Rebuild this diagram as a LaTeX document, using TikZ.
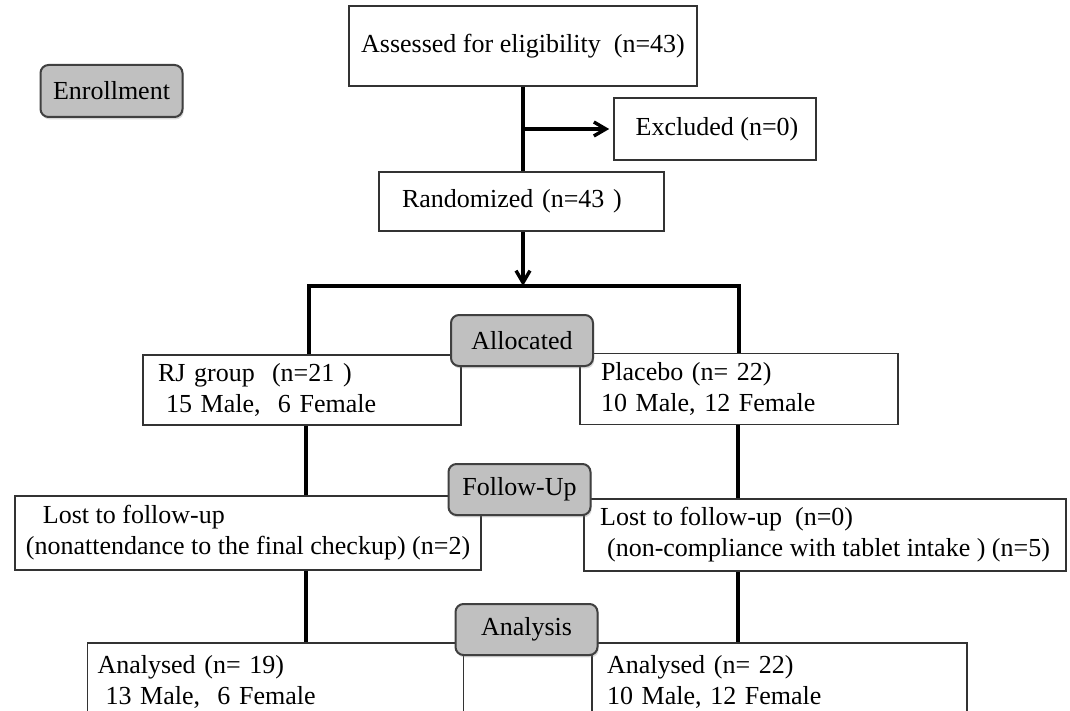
\documentclass[tikz,border=0pt]{standalone}
\usepackage{fontspec}
\setmainfont{Liberation Serif}
\usetikzlibrary{arrows.meta,shadows}
\usepackage{xcolor}
\definecolor{stagegray}{HTML}{C0C0C0}
\definecolor{stageedge}{HTML}{404040}
\definecolor{boxedge}{HTML}{333333}

\tikzset{
  panel/.style={draw=boxedge, fill=white, line width=0.8pt, align=left,
    inner ysep=0pt, font=\fontsize{13}{15.5}\selectfont},
  stage/.style={draw=stageedge, fill=stagegray, line width=1pt, rounded corners=4pt,
    minimum width=71pt, minimum height=25.5pt, inner sep=0pt,
    font=\fontsize{13}{15.5}\selectfont,
    drop shadow={shadow xshift=0.6pt, shadow yshift=-1.2pt, opacity=0.3}},
  link/.style={line width=1.7pt, line join=miter},
  flow/.style={link, -{Straight Barb[length=6pt,width=7pt]}}
}

\begin{document}
\begin{tikzpicture}[x=0.5pt, y=-0.5pt]

  % Page frame
  \fill[white] (0,0) rectangle (1070,711);
  \useasboundingbox (0,0) rectangle (1070,711);
  \clip (0,0) rectangle (1070,711);

  % Enrollment boxes
  \node[panel, align=center, minimum width=174pt, minimum height=40pt] (assess) at (523,46)
    {Assessed for eligibility\ \ (n=43)};
  \node[panel, align=center, minimum width=101pt, minimum height=31pt] (excl) at (715,129)
    {\hspace*{2pt}Excluded (n=0)};
  \node[panel, text width=119.5pt, inner xsep=11.5pt, minimum height=29.5pt] (rand) at (521.5,201.5)
    {Randomized (n=43 )};

  % Allocation boxes
  \node[panel, text width=144pt, inner xsep=7.5pt, minimum height=35pt] (rj) at (302,390)
    {RJ group\ \ (n=21 )\\\hspace*{4pt}15 Male,\ \ 6 Female};
  \node[panel, text width=138pt, inner xsep=10.5pt, minimum height=35.5pt] (placebo) at (739,389)
    {Placebo (n= 22)\\10 Male, 12 Female};

  % Follow-up boxes
  \node[panel, minimum width=233pt, inner xsep=2pt, minimum height=37pt] (lostrj) at (248,533)
    {\hspace*{8.5pt}Lost to follow-up\\(nonattendance to the final checkup) (n=2)};
  \node[panel, minimum width=241pt, inner xsep=2pt, minimum height=36pt] (lostpl) at (825,535)
    {Lost to follow-up\ \ (n=0)\\\hspace*{3.5pt}(non-compliance with tablet intake ) (n=5)};

  % Analysis boxes (cut at the lower edge)
  \node[panel, anchor=north, text width=178pt, inner xsep=5pt, inner ysep=6.5pt] (anarj) at (275.5,642)
    {Analysed (n= 19)\\\hspace*{4pt}13 Male,\ \ 6 Female\rule[-10pt]{0pt}{10pt}};
  \node[panel, anchor=north, text width=172.5pt, inner xsep=7.5pt, inner ysep=6.5pt] (anapl) at (779.5,642)
    {Analysed (n= 22)\\10 Male, 12 Female\rule[-10pt]{0pt}{10pt}};

  % Connectors
  \coordinate (fork) at (523,286);
  \coordinate (forkL) at (309,286);
  \coordinate (forkR) at (739,286);
  \coordinate (colL) at (306,0);
  \coordinate (colR) at (738,0);

  \draw[link] (assess.south) -- (assess.south |- rand.north);
  \draw[flow, shorten >=2pt] (assess.south |- excl.west) -- (excl.west);
  \draw[flow] (fork |- rand.south) -- (fork);
  \draw[link] (forkL |- rj.north) -- (forkL) -- (forkR) -- (forkR |- placebo.north);
  \draw[link] (rj.south -| colL) -- (lostrj.north -| colL);
  \draw[link] (lostrj.south -| colL) -- (anarj.north -| colL);
  \draw[link] (placebo.south -| colR) -- (lostpl.north -| colR);
  \draw[link] (lostpl.south -| colR) -- (anapl.north -| colR);

  % Stage labels
  \node[stage, minimum height=26pt] (enrol) at (111.5,91) {Enrollment};
  \node[stage] (alloc) at (522,340.5) {Allocated};
  \node[stage] (follow) at (519.5,489.5) {Follow-Up};
  \node[stage] (analysis) at (526.5,629.5) {Analysis};

\end{tikzpicture}
\end{document}
